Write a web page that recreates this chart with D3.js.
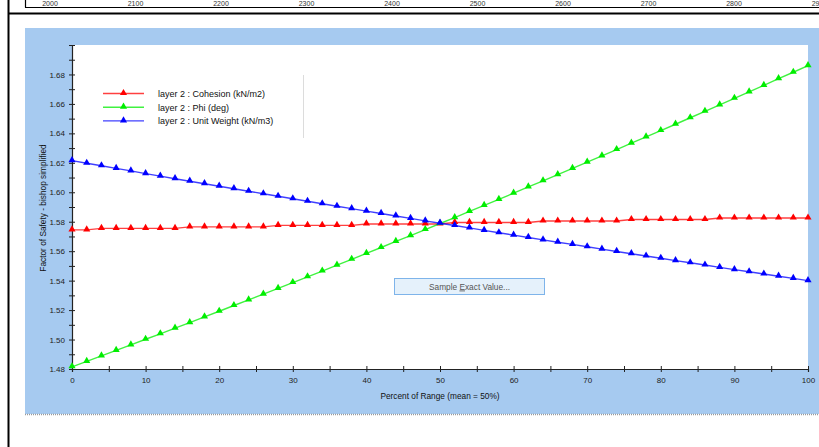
<!DOCTYPE html>
<html>
<head>
<meta charset="utf-8">
<script src="https://cdn.jsdelivr.net/npm/d3@7"></script>
<style>
  body { margin: 0; background: #fff; }
  svg { display: block; font-family: "Liberation Sans", Arial, sans-serif; }
</style>
</head>
<body>
<svg id="chart" width="819" height="447"></svg>
<script>
// Sensitivity of the factor of safety to each layer-2 parameter
const percentOfRange = [0, 2, 4, 6, 8, 10, 12, 14, 16, 18, 20, 22, 24, 26, 28, 30, 32, 34, 36, 38, 40,
  42, 44, 46, 48, 50, 52, 54, 56, 58, 60, 62, 64, 66, 68, 70, 72, 74, 76, 78, 80,
  82, 84, 86, 88, 90, 92, 94, 96, 98, 100];

const cohesionFS = [1.5745, 1.5745, 1.5755, 1.5755, 1.5755, 1.5755, 1.5755, 1.5755,
  1.5765, 1.5765, 1.5765, 1.5765, 1.5765, 1.5765, 1.5775, 1.5775, 1.5775, 1.5775, 1.5775, 1.5775,
  1.5785, 1.5785, 1.5785, 1.5785, 1.5785, 1.5785, 1.5795, 1.5795, 1.5795, 1.5795, 1.5795, 1.5795,
  1.5805, 1.5805, 1.5805, 1.5805, 1.5805, 1.5805, 1.5815, 1.5815, 1.5815, 1.5815, 1.5815, 1.5815,
  1.5825, 1.5825, 1.5825, 1.5825, 1.5825, 1.5825, 1.5825];

const phiFS = [1.4815, 1.4852, 1.4889, 1.4926, 1.4964, 1.5002, 1.5039, 1.5077, 1.5115, 1.5154,
  1.5192, 1.5231, 1.5269, 1.5308, 1.5347, 1.5387, 1.5426, 1.5465, 1.5505, 1.5545,
  1.5585, 1.5625, 1.5666, 1.5706, 1.5747, 1.5788, 1.5828, 1.5870, 1.5911, 1.5952,
  1.5994, 1.6036, 1.6078, 1.6120, 1.6162, 1.6205, 1.6247, 1.6290, 1.6333, 1.6376,
  1.6419, 1.6462, 1.6506, 1.6550, 1.6593, 1.6638, 1.6682, 1.6726, 1.6771, 1.6815, 1.6860];

const unitWeightFS = [1.6215, 1.6197, 1.6180, 1.6162, 1.6145, 1.6127, 1.6110, 1.6092, 1.6075, 1.6058,
  1.6041, 1.6024, 1.6007, 1.5990, 1.5973, 1.5956, 1.5939, 1.5922, 1.5905, 1.5889,
  1.5872, 1.5856, 1.5839, 1.5823, 1.5806, 1.5790, 1.5774, 1.5758, 1.5741, 1.5725,
  1.5709, 1.5693, 1.5677, 1.5661, 1.5646, 1.5630, 1.5614, 1.5598, 1.5583, 1.5567,
  1.5552, 1.5536, 1.5521, 1.5506, 1.5490, 1.5475, 1.5460, 1.5445, 1.5430, 1.5415, 1.5400];

const seriesNames = ["layer 2 : Cohesion (kN/m2)", "layer 2 : Phi (deg)", "layer 2 : Unit Weight (kN/m3)"];
const seriesColors = ["#ff0000", "#00ee00", "#0000ff"];
const seriesValues = [cohesionFS, phiFS, unitWeightFS];

const xMajorTicks = [0, 10, 20, 30, 40, 50, 60, 70, 80, 90, 100];
const xMinorTicks = [5, 15, 25, 35, 45, 55, 65, 75, 85, 95];
const yMajorTicks = [1.48, 1.50, 1.52, 1.54, 1.56, 1.58, 1.60, 1.62, 1.64, 1.66, 1.68, 1.70];
const yMinorTicks = [1.49, 1.51, 1.53, 1.55, 1.57, 1.59, 1.61, 1.63, 1.65, 1.67, 1.69];
const yLabelled = [1.48, 1.50, 1.52, 1.54, 1.56, 1.58, 1.60, 1.62, 1.64, 1.66, 1.68];

// axis of the chart stacked above (only its bottom edge shows)
const upperTicks = [2000, 2100, 2200, 2300, 2400, 2500, 2600, 2700, 2800, 2900];

const svg = d3.select("#chart");

// --- upper chart remnant ---
const xUpper = d3.scaleLinear().domain([2000, 2900]).range([50, 819.5]);
svg.append("g").selectAll("text").data(upperTicks).join("text")
  .attr("x", d => xUpper(d)).attr("y", 6)
  .attr("text-anchor", "middle").attr("font-size", "7px").attr("fill", "#333")
  .text(d => d);
svg.append("line").attr("x1", 25).attr("x2", 819).attr("y1", 7.5).attr("y2", 7.5)
  .attr("stroke", "#000").attr("stroke-width", 1.2);
svg.append("line").attr("x1", 25.5).attr("x2", 25.5).attr("y1", 0).attr("y2", 7.5)
  .attr("stroke", "#000").attr("stroke-width", 1.2);
svg.append("line").attr("x1", 8).attr("x2", 819).attr("y1", 13.5).attr("y2", 13.5)
  .attr("stroke", "#000").attr("stroke-width", 2);
svg.append("line").attr("x1", 8.5).attr("x2", 8.5).attr("y1", 0).attr("y2", 447)
  .attr("stroke", "#000").attr("stroke-width", 2);

// --- blue panel ---
svg.append("rect").attr("x", 25).attr("y", 28).attr("width", 794).attr("height", 386)
  .attr("fill", "#a6caf0");
svg.append("line").attr("x1", 25).attr("x2", 819).attr("y1", 414.5).attr("y2", 414.5)
  .attr("stroke", "#9a9a9a").attr("stroke-width", 1.5).attr("stroke-dasharray", "1,1");

// --- plot area ---
const x = d3.scaleLinear().domain([0, 100]).range([72, 808]);
const y = d3.scaleLinear().domain([1.48, 1.70]).range([369, 45]);

svg.append("rect").attr("x", x(0)).attr("y", y(1.70))
  .attr("width", x(100) - x(0)).attr("height", y(1.48) - y(1.70)).attr("fill", "#fff");

// x axis
const gx = svg.append("g").attr("transform", `translate(0,${y(1.48)})`)
  .call(d3.axisBottom(x).tickValues(xMajorTicks).tickSize(3).tickPadding(5).tickFormat(d3.format("d")));
svg.append("g").attr("transform", `translate(0,${y(1.48)})`)
  .call(d3.axisBottom(x).tickValues(xMinorTicks).tickSize(3).tickFormat(""))
  .call(g => g.select(".domain").remove());

// y axis
svg.append("g").attr("transform", `translate(${x(0)},0)`)
  .call(d3.axisLeft(y).tickValues(yMajorTicks).tickSize(3).tickPadding(4)
    .tickFormat(d => yLabelled.some(v => Math.abs(v - d) < 1e-9) ? d3.format(".2f")(d) : ""));
svg.append("g").attr("transform", `translate(${x(0)},0)`)
  .call(d3.axisLeft(y).tickValues(yMinorTicks).tickSize(3).tickFormat(""))
  .call(g => g.select(".domain").remove());

// ticks cross the axis line
svg.selectAll(".tick line").attr("stroke", "#222");
svg.selectAll("g .tick line").each(function () {
  const l = d3.select(this);
  if (l.attr("x2") !== null && +l.attr("x2") < 0) l.attr("x1", 3).attr("x2", -3);
  if (l.attr("y2") !== null && +l.attr("y2") > 0) l.attr("y1", -3).attr("y2", 3);
});
svg.selectAll(".domain").attr("stroke", "#222").attr("stroke-width", 1.2);
svg.selectAll(".tick text").attr("font-size", "8px").attr("fill", "#222")
  .attr("font-family", "Liberation Sans, Arial, sans-serif");

// axis titles
svg.append("text").attr("x", 440).attr("y", 398.5).attr("text-anchor", "middle")
  .attr("font-size", "8.3px").attr("fill", "#111").text("Percent of Range (mean = 50%)");
svg.append("text").attr("transform", "translate(46,208) rotate(-90)").attr("text-anchor", "middle")
  .attr("font-size", "8.3px").attr("fill", "#111").text("Factor of Safety - bishop simplified");

// --- series ---
const line = d3.line().x((d, i) => x(percentOfRange[i])).y(d => y(d));
const tri = d3.symbol().type(d3.symbolTriangle).size(22);

seriesValues.forEach((vals, k) => {
  const g = svg.append("g");
  g.append("path").datum(vals).attr("d", line).attr("fill", "none")
    .attr("stroke", seriesColors[k]).attr("stroke-width", 1.4).attr("stroke-opacity", 0.75);
  g.selectAll("path.m").data(vals).join("path").attr("class", "m")
    .attr("transform", (d, i) => `translate(${x(percentOfRange[i])},${y(d) - 0.5})`)
    .attr("d", tri).attr("fill", seriesColors[k]);
});

// --- legend ---
const legend = svg.append("g");
legend.append("line").attr("x1", 303.5).attr("x2", 303.5).attr("y1", 75).attr("y2", 138)
  .attr("stroke", "#dcdcdc");
seriesNames.forEach((name, k) => {
  const ly = 93.5 + k * 13.7;
  legend.append("line").attr("x1", 103).attr("x2", 144).attr("y1", ly).attr("y2", ly)
    .attr("stroke", seriesColors[k]).attr("stroke-width", 1.4).attr("stroke-opacity", 0.75);
  legend.append("path").attr("transform", `translate(123.5,${ly - 0.5})`).attr("d", tri)
    .attr("fill", seriesColors[k]);
  legend.append("text").attr("x", 158).attr("y", ly + 3.3).attr("font-size", "9px")
    .attr("fill", "#111").text(name);
});

// --- button ---
const btn = svg.append("g");
btn.append("rect").attr("x", 394.5).attr("y", 278.5).attr("width", 150).attr("height", 16)
  .attr("fill", "#e5f1fb").attr("stroke", "#7eb4ea");
const bt = btn.append("text").attr("x", 469.5).attr("y", 289.5).attr("text-anchor", "middle")
  .attr("font-size", "8.3px").attr("fill", "#555");
bt.append("tspan").text("Sample ");
bt.append("tspan").attr("text-decoration", "underline").text("E");
bt.append("tspan").text("xact Value...");
</script>
</body>
</html>
